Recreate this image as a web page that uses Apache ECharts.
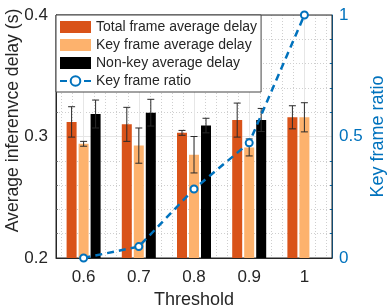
<!DOCTYPE html>
<html>
<head>
<meta charset="utf-8">
<script src="https://cdn.jsdelivr.net/npm/echarts@6/dist/echarts.min.js"></script>
<style>html,body{margin:0;padding:0;background:#fff}#c{width:390px;height:308px}</style>
</head>
<body>
<div id="c"></div>
<script>
const categories = ['0.6', '0.7', '0.8', '0.9', '1'];
const totalMean = [0.312, 0.310, 0.303, 0.3135, 0.3158];
const totalErr = [0.0125, 0.014, 0.002, 0.014, 0.0095];
const keyMean = [0.294, 0.2925, 0.285, 0.291, 0.3158];
const keyErr = [0.002, 0.0145, 0.015, 0.007, 0.012];
const nonKeyMean = [0.3185, 0.3196, 0.309, 0.3136, null];
const nonKeyErr = [0.0115, 0.011, 0.006, 0.0095, null];
const keyRatio = [0.0, 0.047, 0.284, 0.474, 1.0];
const leftTicks = [0.2, 0.3, 0.4];
const rightTicks = [0, 0.5, 1];

const FONT = 'Liberation Sans, Arial, Helvetica, sans-serif';
const TXT = '#262626';
const BLUE = '#0072BD';
const BAR_W = 10;
const BAR_STEP = BAR_W * 1.2;

function errData(mean, err) {
  const out = [];
  mean.forEach((m, i) => {
    if (m != null && err[i] != null) out.push([i, m - err[i], m + err[i]]);
  });
  return out;
}
function errSeries(mean, err, slot) {
  return {
    type: 'custom', xAxisIndex: 0, yAxisIndex: 0, z: 5,
    data: errData(mean, err),
    encode: { x: 0, y: [1, 2] },
    renderItem: function (params, api) {
      const c = api.value(0);
      const lo = api.coord([c, api.value(1)]);
      const hi = api.coord([c, api.value(2)]);
      const x = lo[0] + slot * BAR_STEP;
      const cap = 3.5;
      const st = { stroke: '#2a2a2a', lineWidth: 1 };
      return {
        type: 'group',
        children: [
          { type: 'line', shape: { x1: x, y1: hi[1], x2: x, y2: lo[1] }, style: st },
          { type: 'line', shape: { x1: x - cap, y1: hi[1], x2: x + cap, y2: hi[1] }, style: st },
          { type: 'line', shape: { x1: x - cap, y1: lo[1], x2: x + cap, y2: lo[1] }, style: st }
        ]
      };
    },
    silent: true
  };
}

const GRID_COMMON = { top: 15, bottom: 50, outerBoundsMode: 'none', containLabel: false };

const chart = echarts.init(document.getElementById('c'));
chart.setOption({
  animation: false,
  textStyle: { fontFamily: FONT },
  grid: [
    Object.assign({ left: 56, right: 58, show: true, borderColor: TXT, borderWidth: 1, backgroundColor: 'transparent', z: 3 }, GRID_COMMON),
    Object.assign({ left: 61.5, right: 63.5 }, GRID_COMMON),
    Object.assign({ left: 83.6, right: 85.6 }, GRID_COMMON)
  ],
  legend: {
    orient: 'vertical', left: 56, top: 15,
    padding: [5, 4, 4, 3],
    itemWidth: 31, itemHeight: 12, itemGap: 4,
    backgroundColor: '#fff', borderColor: '#444', borderWidth: 1,
    textStyle: { fontSize: 14, color: TXT, fontFamily: FONT, lineHeight: 12 },
    data: [
      { name: 'Total frame average delay', icon: 'rect' },
      { name: 'Key frame average delay', icon: 'rect' },
      { name: 'Non-key average delay', icon: 'rect' },
      { name: 'Key frame ratio' }
    ],
    z: 10
  },
  xAxis: [
    {
      type: 'category', gridIndex: 0, data: categories, boundaryGap: true,
      name: 'Threshold', nameLocation: 'middle', nameGap: 31,
      nameTextStyle: { fontSize: 18, color: TXT, fontFamily: FONT },
      axisLine: { lineStyle: { color: TXT } },
      axisTick: { inside: true, alignWithLabel: true, length: 3, lineStyle: { color: TXT } },
      axisLabel: { fontSize: 17, color: TXT, margin: 11, fontFamily: FONT },
      splitLine: { show: false }
    },
    {
      type: 'value', gridIndex: 1, min: 0.56, max: 1.04, interval: 0.02,
      axisLine: { show: false }, axisTick: { show: false }, axisLabel: { show: false },
      splitLine: { show: true, lineStyle: { color: '#cfcfcf', type: [1, 2], width: 1 } }
    },
    {
      type: 'value', gridIndex: 2, min: 0.6, max: 1.0, interval: 0.1,
      axisLine: { show: false }, axisTick: { show: false }, axisLabel: { show: false },
      splitLine: { show: true, lineStyle: { color: '#e6e6e6', width: 1 } }
    }
  ],
  yAxis: [
    {
      type: 'value', gridIndex: 0, min: leftTicks[0], max: leftTicks[leftTicks.length - 1], interval: 0.1,
      name: 'Average inferenvce delay (s)', nameLocation: 'middle', nameGap: 34, nameMoveOverlap: false,
      nameTextStyle: { fontSize: 17.6, color: TXT, fontFamily: FONT, padding: [0, 0, 0, 32] },
      axisLine: { show: true, lineStyle: { color: TXT } },
      axisTick: { inside: true, length: 3, lineStyle: { color: TXT } },
      minorTick: { show: true, splitNumber: 5, length: 2, lineStyle: { color: '#777' } },
      axisLabel: { fontSize: 17, color: TXT, margin: 8, fontFamily: FONT, formatter: v => v.toFixed(1) },
      splitLine: { show: true, lineStyle: { color: '#e6e6e6', width: 1 } },
      minorSplitLine: { show: true, lineStyle: { color: '#cfcfcf', type: [1, 2], width: 1 } }
    },
    {
      type: 'value', gridIndex: 0, position: 'right', min: rightTicks[0], max: rightTicks[rightTicks.length - 1], interval: 0.5,
      name: 'Key frame ratio', nameLocation: 'middle', nameGap: 37, nameMoveOverlap: false,
      nameTextStyle: { fontSize: 18, color: BLUE, fontFamily: FONT },
      axisLine: { show: true, lineStyle: { color: BLUE } },
      axisTick: { inside: true, length: 3, lineStyle: { color: BLUE } },
      minorTick: { show: true, splitNumber: 5, length: 2, lineStyle: { color: BLUE } },
      axisLabel: { fontSize: 17, color: BLUE, margin: 7, fontFamily: FONT },
      splitLine: { show: false }
    },
    { type: 'value', gridIndex: 1, min: 0, max: 1, show: false, splitLine: { show: false } },
    { type: 'value', gridIndex: 2, min: 0, max: 1, show: false, splitLine: { show: false } }
  ],
  series: [
    {
      name: 'Total frame average delay', type: 'bar', xAxisIndex: 0, yAxisIndex: 0,
      data: totalMean, barWidth: BAR_W, barGap: '20%',
      itemStyle: { color: '#D95319' }, z: 3
    },
    {
      name: 'Key frame average delay', type: 'bar', xAxisIndex: 0, yAxisIndex: 0,
      data: keyMean, barWidth: BAR_W, barGap: '20%',
      itemStyle: { color: '#FDB26D' }, z: 3
    },
    {
      name: 'Non-key average delay', type: 'bar', xAxisIndex: 0, yAxisIndex: 0,
      data: nonKeyMean.map(v => v == null ? '-' : v), barWidth: BAR_W, barGap: '20%',
      itemStyle: { color: '#000000' }, z: 3
    },
    errSeries(totalMean, totalErr, -1),
    errSeries(keyMean, keyErr, 0),
    errSeries(nonKeyMean, nonKeyErr, 1),
    {
      name: 'Key frame ratio', type: 'line', xAxisIndex: 0, yAxisIndex: 1,
      data: keyRatio, clip: false, z: 6,
      symbol: 'emptyCircle', symbolSize: 7,
      itemStyle: { color: BLUE, borderColor: BLUE, borderWidth: 2 },
      lineStyle: { color: BLUE, width: 2.5, type: [7, 5] }
    }
  ]
});
</script>
</body>
</html>
